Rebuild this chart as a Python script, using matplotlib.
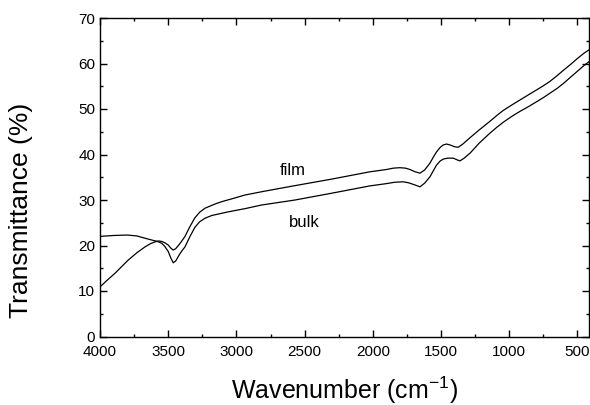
import numpy as np
import matplotlib
matplotlib.use('Agg')
import matplotlib.pyplot as plt
from matplotlib.ticker import MultipleLocator

plt.rcParams['font.family'] = ['Liberation Sans', 'DejaVu Sans']
plt.rcParams['mathtext.fontset'] = 'custom'
plt.rcParams['mathtext.rm'] = 'Liberation Sans'
plt.rcParams['mathtext.it'] = 'Liberation Sans'

# film spectrum (upper curve on the right)
film_wn = [4000, 3950, 3890, 3840, 3793, 3730, 3670, 3630, 3597, 3570, 3548, 3525,
           3500, 3480, 3463, 3445, 3420, 3400, 3377, 3340, 3304, 3270, 3230, 3190,
           3150, 3100, 3040, 2937, 2800, 2600, 2300, 2021, 1900, 1850, 1801, 1760,
           1727, 1690, 1654, 1620, 1581, 1555, 1532, 1505, 1483, 1460, 1434, 1400,
           1373, 1340, 1287, 1220, 1141, 1090, 1043, 980, 920, 860, 799, 750,
           700, 650, 603, 550, 500, 450, 415]
film_t = [10.9, 12.3, 13.9, 15.4, 16.8, 18.4, 19.7, 20.4, 20.8, 21.0, 20.9, 20.6,
          20.1, 19.4, 19.0, 19.3, 20.2, 21.0, 22.0, 24.2, 26.1, 27.3, 28.2, 28.7,
          29.2, 29.7, 30.2, 31.1, 31.9, 33.0, 34.6, 36.2, 36.7, 37.0, 37.1, 37.0,
          36.7, 36.2, 35.9, 36.6, 38.1, 39.5, 40.6, 41.6, 42.1, 42.3, 42.1, 41.7,
          41.6, 42.3, 43.7, 45.4, 47.3, 48.6, 49.7, 50.9, 52.0, 53.1, 54.2, 55.1,
          56.1, 57.3, 58.5, 59.8, 61.1, 62.3, 63.0]

# bulk spectrum (lower curve on the right)
bulk_wn = [4000, 3900, 3800, 3730, 3670, 3620, 3580, 3548, 3525, 3500, 3480, 3463,
           3445, 3420, 3400, 3377, 3340, 3304, 3270, 3230, 3180, 3120, 3059, 2937,
           2815, 2570, 2300, 2021, 1900, 1840, 1777, 1740, 1700, 1654, 1620, 1581,
           1555, 1532, 1505, 1483, 1450, 1410, 1380, 1361, 1330, 1287, 1220, 1141,
           1090, 1043, 980, 920, 860, 799, 750, 700, 650, 603, 550, 500, 450, 415]
bulk_t = [22.0, 22.2, 22.3, 22.1, 21.6, 21.2, 20.9, 20.5, 19.8, 18.7, 17.2, 16.2,
          16.6, 17.9, 18.8, 19.7, 22.0, 24.0, 25.2, 26.0, 26.6, 27.0, 27.4, 28.1,
          28.9, 30.0, 31.5, 33.1, 33.6, 33.9, 34.0, 33.8, 33.4, 32.9, 33.7, 35.1,
          36.5, 37.7, 38.6, 39.0, 39.2, 39.2, 38.8, 38.6, 39.2, 40.3, 42.5, 44.7,
          46.0, 47.1, 48.4, 49.5, 50.5, 51.6, 52.5, 53.5, 54.5, 55.6, 57.0, 58.3,
          59.6, 60.4]

fig = plt.figure(figsize=(5.9, 4.05), dpi=100)
ax = fig.add_axes([100 / 590, 1 - 336.5 / 405, 489 / 590, (336.5 - 18) / 405])

ax.plot(film_wn, film_t, color='black', lw=0.9)
ax.plot(bulk_wn, bulk_t, color='black', lw=0.9)

ax.text(2590, 35.6, 'film', fontsize=12, ha='center', va='baseline')
ax.text(2504, 24.1, 'bulk', fontsize=12, ha='center', va='baseline')

ax.set_xlim(4000, 415)
ax.set_ylim(0, 70)
ax.xaxis.set_major_locator(MultipleLocator(500))
ax.xaxis.set_minor_locator(MultipleLocator(250))
ax.yaxis.set_major_locator(MultipleLocator(10))
ax.yaxis.set_minor_locator(MultipleLocator(5))
ax.tick_params(which='both', direction='in', top=True, right=True, labelsize=11, width=1)
ax.tick_params(which='major', length=5)
ax.tick_params(axis='x', which='major', pad=6)
ax.tick_params(which='minor', length=2.5)
for s in ax.spines.values():
    s.set_linewidth(1)

ax.set_xlabel('Wavenumber (cm$^{-1}$)', fontsize=18)
ax.xaxis.set_label_coords(0.5, -0.12)
ax.set_ylabel('Transmittance (%)', fontsize=19)
ax.yaxis.set_label_coords(-0.137, 0.397)

fig.savefig('out.png', dpi=100)
